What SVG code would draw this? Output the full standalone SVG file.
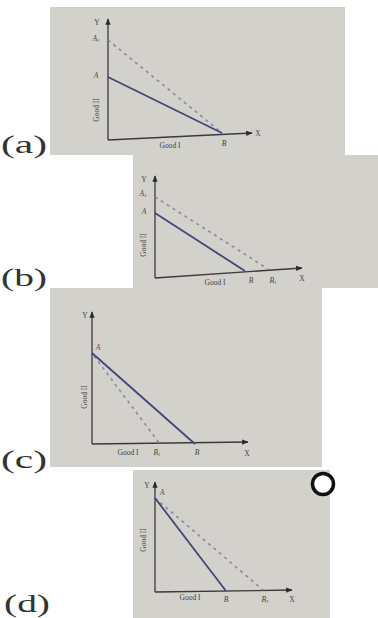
<svg xmlns="http://www.w3.org/2000/svg" width="378" height="618" viewBox="0 0 378 618">
<defs>
<marker id="arr" viewBox="0 0 10 10" refX="9" refY="5" markerWidth="5" markerHeight="5" orient="auto-start-reverse">
<path d="M0,1 L10,5 L0,9 z" fill="#2a2a2a"/>
</marker>
<style>
.panel{fill:#d3d1cc}
.axis{stroke:#3a3a3a;stroke-width:1.3;fill:none}
.solid{stroke:#45457a;stroke-width:1.8;fill:none}
.dash{stroke:#8a8a9a;stroke-width:1.6;stroke-dasharray:3 4;fill:none}
.lbl{font-family:"Liberation Serif",serif;font-size:7.5px;fill:#444444}
.it{font-style:italic}
.big{font-family:"Liberation Serif",serif;font-size:25px;fill:#333333}
</style>
</defs>
<rect width="378" height="618" fill="#ffffff"/>

<g id="panel-a">
<rect class="panel" x="50" y="7" width="295" height="148" fill="#d8d6d1"/>
<text class="big" x="1" y="153" textLength="46" lengthAdjust="spacingAndGlyphs">(a)</text>
<line class="axis" x1="108" y1="140" x2="108" y2="19" marker-end="url(#arr)"/>
<line class="axis" x1="108" y1="140" x2="252" y2="133" marker-end="url(#arr)"/>
<line class="dash" x1="108" y1="40" x2="222" y2="133"/>
<line class="solid" x1="108" y1="77" x2="222" y2="133"/>
<text class="lbl" x="97" y="25" text-anchor="middle">Y</text>
<text class="lbl it" x="96" y="41" text-anchor="middle">A<tspan font-size="5" dy="1">1</tspan></text>
<text class="lbl it" x="96" y="78" text-anchor="middle">A</text>
<text class="lbl it" x="224" y="146" text-anchor="middle">B</text>
<text class="lbl" x="258" y="136" text-anchor="middle">X</text>
<text class="lbl" x="170" y="148" text-anchor="middle">Good I</text>
<text class="lbl" transform="translate(99,110) rotate(-90)" text-anchor="middle">Good II</text>
</g>

<g id="panel-b">
<rect class="panel" x="133" y="155" width="245" height="133" fill="#d2d0cb"/>
<text class="big" x="1" y="286" textLength="46" lengthAdjust="spacingAndGlyphs">(b)</text>
<line class="axis" x1="155" y1="278" x2="155" y2="176" marker-end="url(#arr)"/>
<line class="axis" x1="155" y1="278" x2="302" y2="268" marker-end="url(#arr)"/>
<line class="dash" x1="155" y1="197" x2="268" y2="269"/>
<line class="solid" x1="155" y1="213" x2="245" y2="271"/>
<text class="lbl" x="144" y="182" text-anchor="middle">Y</text>
<text class="lbl it" x="143" y="196" text-anchor="middle">A<tspan font-size="5" dy="1">1</tspan></text>
<text class="lbl it" x="144" y="214" text-anchor="middle">A</text>
<text class="lbl it" x="251" y="283" text-anchor="middle">B</text>
<text class="lbl it" x="273" y="283" text-anchor="middle">B<tspan font-size="5" dy="1">1</tspan></text>
<text class="lbl" x="302" y="281" text-anchor="middle">X</text>
<text class="lbl" x="215" y="285" text-anchor="middle">Good I</text>
<text class="lbl" transform="translate(146,245) rotate(-90)" text-anchor="middle">Good II</text>
</g>

<g id="panel-c">
<rect class="panel" x="50" y="288" width="272" height="179" fill="#d4d2cd"/>
<text class="big" x="1" y="468" textLength="46" lengthAdjust="spacingAndGlyphs">(c)</text>
<line class="axis" x1="92" y1="444" x2="92" y2="312" marker-end="url(#arr)"/>
<line class="axis" x1="92" y1="444" x2="248" y2="442" marker-end="url(#arr)"/>
<line class="dash" x1="94" y1="356" x2="160" y2="444"/>
<line class="solid" x1="92" y1="353" x2="195" y2="444"/>
<text class="lbl" x="85" y="318" text-anchor="middle">Y</text>
<text class="lbl it" x="98" y="350" text-anchor="middle">A</text>
<text class="lbl it" x="157" y="455" text-anchor="middle">B<tspan font-size="5" dy="1">1</tspan></text>
<text class="lbl it" x="197" y="455" text-anchor="middle">B</text>
<text class="lbl" x="247" y="456" text-anchor="middle">X</text>
<text class="lbl" x="128" y="455" text-anchor="middle">Good I</text>
<text class="lbl" transform="translate(87,397) rotate(-90)" text-anchor="middle">Good II</text>
</g>

<g id="panel-d">
<rect class="panel" x="133" y="470" width="197" height="148" fill="#d3d1cc"/>
<text class="big" x="4" y="612" textLength="46" lengthAdjust="spacingAndGlyphs">(d)</text>
<line class="axis" x1="155" y1="592" x2="155" y2="482" marker-end="url(#arr)"/>
<line class="axis" x1="155" y1="592" x2="292" y2="590" marker-end="url(#arr)"/>
<line class="dash" x1="155" y1="498" x2="263" y2="590"/>
<line class="solid" x1="155" y1="498" x2="226" y2="591"/>
<text class="lbl" x="147" y="488" text-anchor="middle">Y</text>
<text class="lbl it" x="162" y="495" text-anchor="middle">A</text>
<text class="lbl it" x="226" y="602" text-anchor="middle">B</text>
<text class="lbl it" x="265" y="602" text-anchor="middle">B<tspan font-size="5" dy="1">1</tspan></text>
<text class="lbl" x="292" y="602" text-anchor="middle">X</text>
<text class="lbl" x="190" y="600" text-anchor="middle">Good I</text>
<text class="lbl" transform="translate(146,540) rotate(-90)" text-anchor="middle">Good II</text>
</g>

<g id="marker-circle">
<circle cx="323" cy="484" r="10.5" fill="#ffffff" stroke="#111111" stroke-width="3.5"/>
</g>
</svg>
